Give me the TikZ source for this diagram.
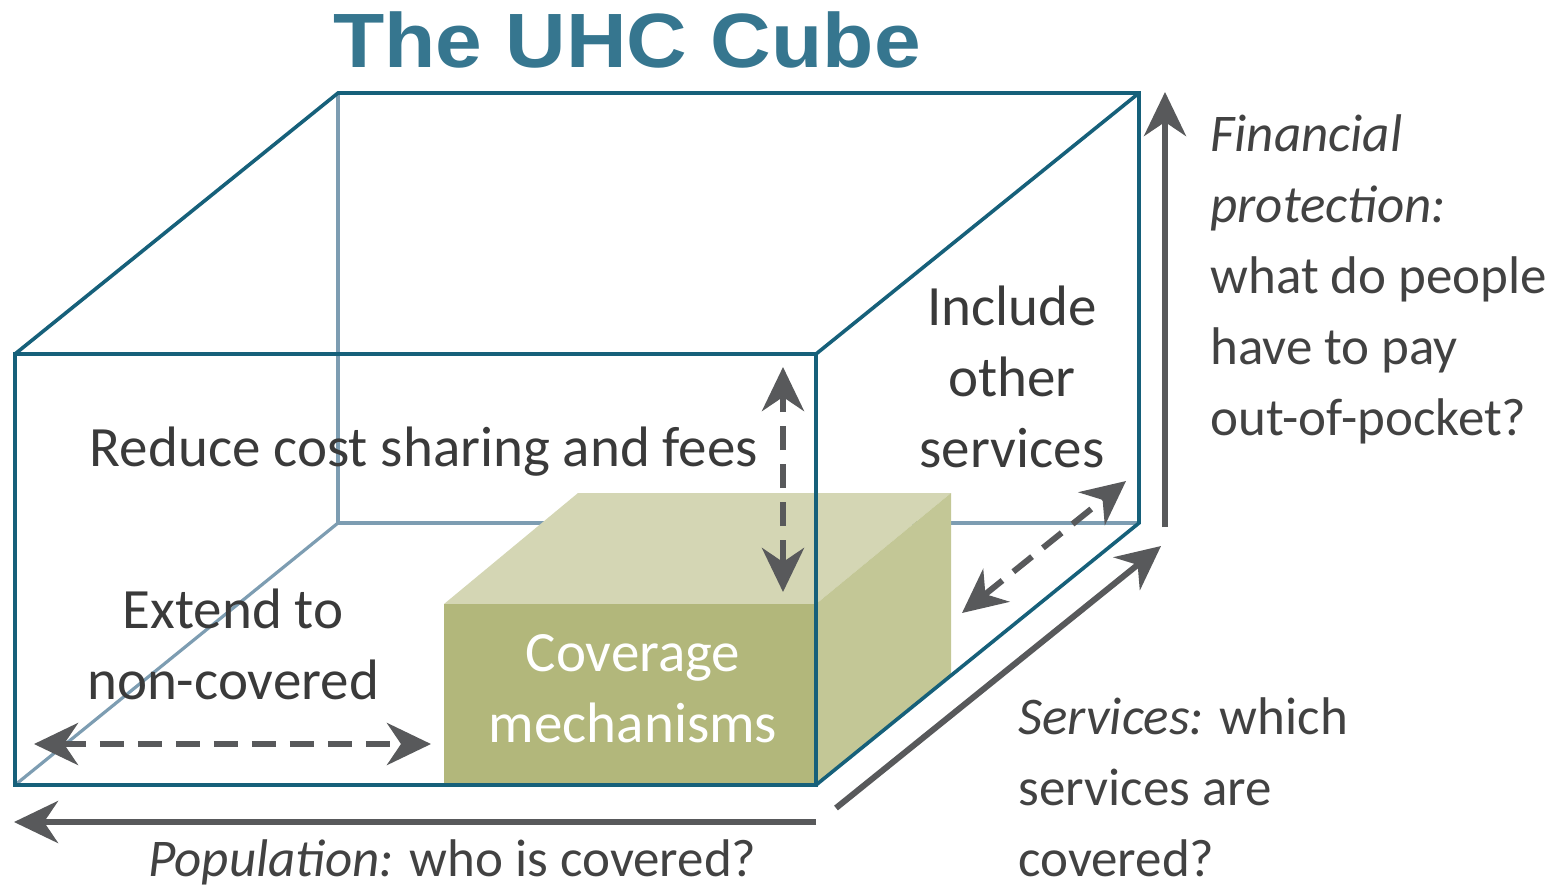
\documentclass[tikz,border=0pt]{standalone}
\usepackage{fontspec}
\setmainfont{Carlito}
\newfontfamily\titlefont{Liberation Sans}
\usetikzlibrary{arrows.meta}
\definecolor{uhcteal}{RGB}{22,96,122}
\definecolor{uhchidden}{RGB}{125,157,178}
\definecolor{uhctitle}{RGB}{54,118,143}
\definecolor{uhcgray}{RGB}{88,89,91}
\definecolor{uhctext}{RGB}{58,58,58}
\definecolor{uhcside}{RGB}{66,66,66}
\definecolor{boxfront}{RGB}{178,183,123}
\definecolor{boxtop}{RGB}{212,214,180}
\definecolor{boxside}{RGB}{195,199,150}
\begin{document}
\begin{tikzpicture}[x=0.5pt, y=-0.5pt,
  cubeedge/.style={uhcteal, line width=1.8pt, line join=miter},
  hiddenedge/.style={uhchidden, line width=1.6pt},
  axisarrow/.style={uhcgray, line width=3pt, -{Stealth[length=22pt, width=21pt, inset=7pt]}},
  spanarrow/.style={uhcgray, line width=3pt, dash pattern=on 12pt off 7pt,
    {Stealth[length=22pt, width=21pt, inset=7pt]}-{Stealth[length=22pt, width=21pt, inset=7pt]}},
  boxtext/.style={text=uhctext, font=\fontsize{28.5}{35.5}\selectfont, inner sep=0pt, align=center},
  sidetext/.style={text=uhcside, font=\fontsize{26.5}{35.5}\selectfont, inner sep=0pt, align=left}]
  \useasboundingbox (0,0) rectangle (1552,890);

  % cube corners (front / back)
  \coordinate (fTL) at (15,354);
  \coordinate (fTR) at (816,354);
  \coordinate (fBR) at (816,785);
  \coordinate (fBL) at (15,785);
  \coordinate (bTL) at (338,93);
  \coordinate (bTR) at (1139,93);
  \coordinate (bBR) at (1139,523);
  \coordinate (bBL) at (338,523);

  % hidden edges
  \draw[hiddenedge] (bTL) -- (bBL) -- (bBR);
  \draw[hiddenedge] (bBL) -- (fBL);

  % coverage box
  \fill[boxtop] (444,604) -- (578,493) -- (951,493) -- (816,604) -- cycle;
  \fill[boxside] (816,604) -- (951,493) -- (951,675) -- (fBR) -- cycle;
  \fill[boxfront] (444,604) rectangle (fBR);

  % visible edges
  \draw[cubeedge] (fTL) rectangle (fBR);
  \draw[cubeedge] (fTL) -- (bTL) -- (bTR) -- (bBR) -- (fBR);
  \draw[cubeedge] (bTR) -- (fTR);

  \node[anchor=base, text=uhctitle, font=\titlefont\bfseries\fontsize{38.5}{40}\selectfont] (title) at (627,67) {\scalebox{1.09}[1]{The UHC Cube}};

  % multi-line texts sit on the baseline of their last line
  \node[boxtext, anchor=base] (reduce) at (424,466) {Reduce cost sharing and fees};
  \node[boxtext, anchor=base] (include) at (1012,467) {Include\\other\\services};
  \node[boxtext, anchor=base] (extend) at (233,699) {Extend to\\non-covered};
  \node[boxtext, anchor=base, text=white] (coverage) at (633,742) {Coverage\\mechanisms};

  \node[sidetext, anchor=base west] (financial) at (1210,435) {\textit{Financial}\\\textit{protection:}\\what do people\\have to pay\\out-of-pocket?};
  \node[sidetext, anchor=base west] (services) at (1018,876) {\textit{Services:} which\\services are\\covered?};
  \node[sidetext, anchor=base west] (population) at (148,876) {\textit{Population:} who is covered?};

  % axes
  \coordinate (finS) at (1165,527);
  \coordinate (finE) at (1165,92);
  \coordinate (serS) at (836,808);
  \coordinate (serE) at (1161,546);
  \coordinate (popS) at (816,822);
  \coordinate (popE) at (14,822);
  \draw[axisarrow] (finS) -- (finE);
  \draw[axisarrow] (serS) -- (serE);
  \draw[axisarrow] (popS) -- (popE);

  % ranges
  \coordinate (costA) at (783,592);
  \coordinate (costB) at (783,367);
  \coordinate (extA) at (34,744);
  \coordinate (extB) at (431,744);
  \coordinate (incA) at (962,613);
  \coordinate (incB) at (1126,481);
  \draw[spanarrow] (costA) -- (costB);
  \draw[spanarrow] (extA) -- (extB);
  \draw[spanarrow] (incA) -- (incB);
\end{tikzpicture}
\end{document}
